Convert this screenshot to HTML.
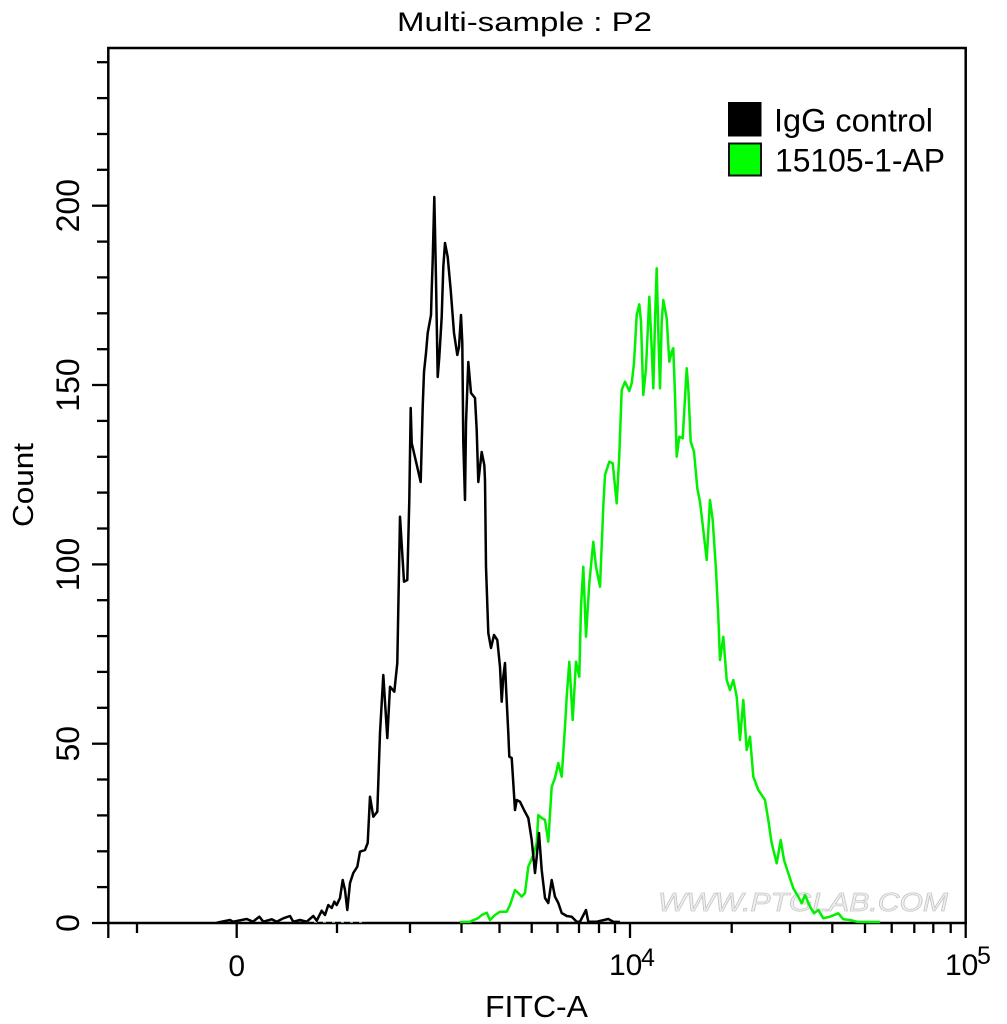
<!DOCTYPE html>
<html><head><meta charset="utf-8"><style>
html,body{margin:0;padding:0;background:#fff;}
svg{display:block;}
text{font-family:"Liberation Sans",Arial,sans-serif;fill:#000;}
</style></head><body>
<svg width="1007" height="1024" viewBox="0 0 1007 1024" xmlns="http://www.w3.org/2000/svg">
<rect x="0" y="0" width="1007" height="1024" fill="#fff"/>
<!-- title -->
<text x="397" y="31" font-size="27" textLength="255" lengthAdjust="spacingAndGlyphs">Multi-sample : P2</text>
<!-- watermark -->
<text x="658" y="911" font-size="26" font-style="italic" textLength="290" lengthAdjust="spacingAndGlyphs" style="fill:#f0f0f0;stroke:#c8c8c8;stroke-width:0.8">WWW.PTGLAB.COM</text>
<!-- frame -->
<rect x="108.3" y="48" width="857.4" height="875" fill="none" stroke="#000" stroke-width="2.5"/>
<!-- y ticks -->
<g stroke="#000" stroke-width="2.3">
<line x1="92" y1="923" x2="108" y2="923"/>
<line x1="97" y1="887.1" x2="108" y2="887.1"/>
<line x1="97" y1="851.3" x2="108" y2="851.3"/>
<line x1="97" y1="815.4" x2="108" y2="815.4"/>
<line x1="97" y1="779.5" x2="108" y2="779.5"/>
<line x1="92" y1="743.7" x2="108" y2="743.7"/>
<line x1="97" y1="707.8" x2="108" y2="707.8"/>
<line x1="97" y1="671.9" x2="108" y2="671.9"/>
<line x1="97" y1="636.1" x2="108" y2="636.1"/>
<line x1="97" y1="600.2" x2="108" y2="600.2"/>
<line x1="92" y1="564.4" x2="108" y2="564.4"/>
<line x1="97" y1="528.5" x2="108" y2="528.5"/>
<line x1="97" y1="492.6" x2="108" y2="492.6"/>
<line x1="97" y1="456.8" x2="108" y2="456.8"/>
<line x1="97" y1="420.9" x2="108" y2="420.9"/>
<line x1="92" y1="385" x2="108" y2="385"/>
<line x1="97" y1="349.2" x2="108" y2="349.2"/>
<line x1="97" y1="313.3" x2="108" y2="313.3"/>
<line x1="97" y1="277.4" x2="108" y2="277.4"/>
<line x1="97" y1="241.6" x2="108" y2="241.6"/>
<line x1="92" y1="205.7" x2="108" y2="205.7"/>
<line x1="97" y1="169.8" x2="108" y2="169.8"/>
<line x1="97" y1="134" x2="108" y2="134"/>
<line x1="97" y1="98.1" x2="108" y2="98.1"/>
<line x1="97" y1="62.2" x2="108" y2="62.2"/>
</g>
<!-- x ticks -->
<g stroke="#000" stroke-width="2.3">
<line x1="108.3" y1="923" x2="108.3" y2="938"/>
<line x1="137" y1="923" x2="137" y2="933"/>
<line x1="236.7" y1="923" x2="236.7" y2="938"/>
<line x1="337" y1="923" x2="337" y2="933"/>
<line x1="410" y1="923" x2="410" y2="933"/>
<line x1="461.5" y1="923" x2="461.5" y2="933"/>
<line x1="499.5" y1="923" x2="499.5" y2="933"/>
<line x1="531.7" y1="923" x2="531.7" y2="933"/>
<line x1="557.5" y1="923" x2="557.5" y2="933"/>
<line x1="579" y1="923" x2="579" y2="933"/>
<line x1="599" y1="923" x2="599" y2="933"/>
<line x1="615" y1="923" x2="615" y2="933"/>
<line x1="630" y1="923" x2="630" y2="938"/>
<line x1="731.7" y1="923" x2="731.7" y2="933"/>
<line x1="790" y1="923" x2="790" y2="933"/>
<line x1="832.3" y1="923" x2="832.3" y2="933"/>
<line x1="865" y1="923" x2="865" y2="933"/>
<line x1="891.7" y1="923" x2="891.7" y2="933"/>
<line x1="914.3" y1="923" x2="914.3" y2="933"/>
<line x1="933.3" y1="923" x2="933.3" y2="933"/>
<line x1="950.7" y1="923" x2="950.7" y2="933"/>
<line x1="965.7" y1="923" x2="965.7" y2="938"/>
</g>
<!-- y labels -->
<g font-size="32" text-anchor="middle">
<text transform="translate(79,923) rotate(-90)">0</text>
<text transform="translate(79,743.7) rotate(-90)">50</text>
<text transform="translate(79,564.4) rotate(-90)">100</text>
<text transform="translate(79,385) rotate(-90)">150</text>
<text transform="translate(79,205.7) rotate(-90)">200</text>
</g>
<text transform="translate(33,485) rotate(-90)" font-size="29" text-anchor="middle" textLength="84" lengthAdjust="spacingAndGlyphs">Count</text>
<!-- x labels -->
<text x="236.7" y="976" font-size="30" text-anchor="middle">0</text>
<text x="609" y="975" font-size="30">10</text>
<text x="641" y="966" font-size="25">4</text>
<text x="945" y="975" font-size="30">10</text>
<text x="977" y="964" font-size="25">5</text>
<text x="485" y="1017" font-size="31" textLength="103" lengthAdjust="spacingAndGlyphs">FITC-A</text>
<!-- legend -->
<rect x="728" y="102" width="33.5" height="34.5" fill="#000"/>
<rect x="729" y="143.5" width="32" height="32" fill="#00ff00" stroke="#111" stroke-width="2"/>
<text x="774" y="131.7" font-size="32" textLength="159" lengthAdjust="spacingAndGlyphs">IgG control</text>
<text x="775" y="171.7" font-size="32" textLength="170" lengthAdjust="spacingAndGlyphs">15105-1-AP</text>
<!-- faint green baseline bits -->
<polyline fill="none" stroke="#b8f0b8" stroke-width="1.2" stroke-dasharray="3,6" points="305,922 365,922"/>
<!-- green series -->
<polyline fill="none" stroke="#00f000" stroke-width="2.5" stroke-linejoin="round" points="460,922 470,921.7 478.3,918 481.7,915 486.7,912.7 490,920 495,915 500,911.7 506.7,911.7 510,905 515,890 518.3,893 521.7,896.7 525,893 528.3,866.7 533.3,855 536.7,843 538.3,815 541.7,818 545,820 548.3,841.7 551.7,786.7 555,778 558.3,763 561.7,776.7 565,726.7 566.7,696.7 569.3,661.7 572.7,720 576,661.7 579.3,676.7 581,606.7 583.3,566.7 586,636.7 589.3,583.3 593.3,541.7 596,566.7 600,586.7 603.3,506.7 605,475 609.3,461.7 612.7,463.3 616.7,503.3 619.3,455 621.7,390 625,381.7 629.3,391 631.7,383.3 634,363.3 636.7,315 639.3,304.3 641,321.7 643.3,395 646,368.3 649.3,296.7 651.7,348.3 653.3,388.3 655,321.7 656.7,268.3 658.3,331.7 660,388.3 661.7,321.7 663.3,300 666.7,318.3 669.3,361.7 671.7,351.7 673.3,348.3 675,395 676.7,456.7 679.3,436.7 682.7,438.3 686.7,368.3 688.3,388.3 690.7,441.7 694,451.7 697.3,488.3 700,501.7 703.3,530 706.7,560 710,500 712.7,520 716,570 718.3,616.7 720,660 723.3,636.7 726.7,680 730,690 733.3,680 736.7,696.7 740,740 743.3,700 746.7,750 750,736.7 753.3,776.7 758.3,790 765,800 768.3,820 771.7,843.3 776.7,863.3 780.7,840 784,860 788.3,873.3 793.3,888.3 798.3,896.7 801.7,903.3 805,895 810,906.7 814,913.3 818.3,910 823.3,918.3 830,916.7 838.3,913.3 843.3,919.3 850,920 856.7,921.7 880,922"/>
<!-- black series -->
<polyline fill="none" stroke="#000" stroke-width="2.5" stroke-linejoin="round" points="216.7,922.7 230,920 233,921.7 246.7,919 253,921.7 259.3,916.7 263.3,921.7 271.7,919.3 276.7,921.7 283.3,918.3 290,916 293.3,921.7 300,920 306.7,921.7 313.3,916 316.7,920.7 321.7,910.7 325,915 328.3,905 331.7,908 334.3,901.7 336.7,905 340,898 342.7,880 345,890 347.3,910 350,883 353.3,873 357.3,866.7 360,851.7 365,850 367.7,843 370,796.7 373.3,816.7 377.3,811.7 380,733 383.3,675 387.3,738 390,686.7 394.3,691.7 397.3,663 400,516.7 404,581.7 407.3,580 409.3,500 410.7,408 411.7,443 414,453 420.7,482 422.7,407 424,372 426,353 427.7,333 431,315 431.7,290 432.7,260 434.3,197 435,230 436,280 437.7,377 439.3,357 441.7,317 443.3,267 445,243 447.7,257 450.7,290 454,333 457.3,355 459,347 461,315 462.3,343 463.3,443 465,500 466,423 468.3,362 471,393 475,398 476.7,430 478.3,482 481.7,452 484.3,465 485,480 486,566.7 488.3,633 491,648 494,635 497.3,640 500,666.7 501.7,701.7 503.3,676.7 505,663 506,686.7 508.3,733 509.3,756.7 511.7,758 515,810 516.7,800 520,801.7 524,810 528.3,818 531.7,840 535,873 536.7,856.7 539,833 541.7,870 545,898 548.3,903 551.7,880 555,896.7 558.3,903 561.7,913 566.7,916 571.7,916.7 576.7,921.7 580,921.7 586,910 588.3,921.7 596.7,921.7 608.3,919 613.3,921.7 620,922"/>
</svg>
</body></html>
